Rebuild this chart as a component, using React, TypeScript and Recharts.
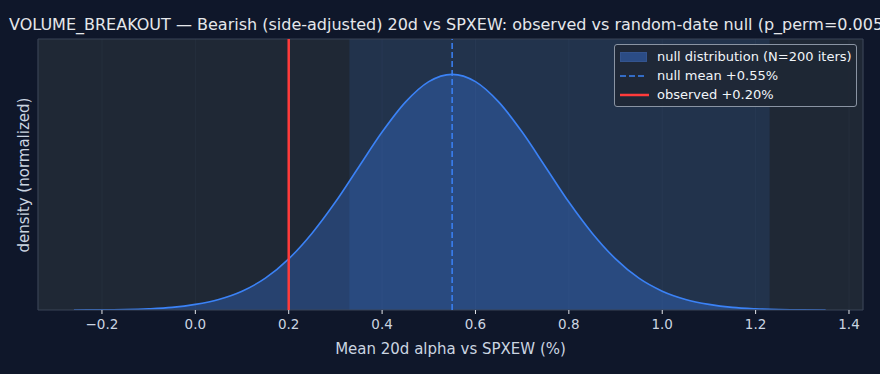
import {
    ComposedChart,
    Area,
    XAxis,
    YAxis,
    CartesianGrid,
    ReferenceArea,
    ReferenceLine,
} from "recharts";

// alpha grid (%) and normalized density
const alphaPts = [
    -0.26, -0.2, -0.15, -0.1, -0.05, 0.0, 0.05, 0.1, 0.15, 0.2, 0.25, 0.3, 0.35,
    0.4, 0.45, 0.5, 0.55, 0.6, 0.65, 0.7, 0.75, 0.8, 0.85, 0.9, 0.95, 1.0, 1.05,
    1.1, 1.15, 1.2, 1.25, 1.3, 1.35,
];
const density = [
    0.0003, 0.001, 0.002, 0.005, 0.011, 0.024, 0.045, 0.08, 0.135, 0.217, 0.326,
    0.458, 0.607, 0.755, 0.882, 0.969, 1.0, 0.969, 0.882, 0.755, 0.607, 0.458,
    0.326, 0.217, 0.135, 0.08, 0.045, 0.024, 0.011, 0.005, 0.002, 0.001, 0.0003,
];
const xTicks = [-0.2, 0, 0.2, 0.4, 0.6, 0.8, 1.0, 1.2, 1.4];

const nullMean = 0.55;
const observed = 0.2;
const bandLo = 0.33;
const bandHi = 1.23;

const X_MIN = -0.337;
const X_MAX = 1.43;
const Y_MAX = 1.15;

const data = alphaPts.map((a, i) => ({ alpha: a, dens: density[i] }));

const font = "'DejaVu Sans', sans-serif";

const fmt = (v: number) => (v < 0 ? "\u2212" + Math.abs(v).toFixed(1) : v.toFixed(1));

const row = { position: "absolute" as const, left: 5, height: 19, display: "flex", alignItems: "center" };

export default function App() {
    return (
        <div
            style={{
                position: "absolute",
                left: 0,
                top: 0,
                width: 880,
                height: 374,
                background: "#0f172a",
                overflow: "hidden",
                fontFamily: font,
            }}
        >
            <div
                style={{
                    position: "absolute",
                    left: 9,
                    top: 15,
                    fontSize: 16,
                    color: "#e5e7eb",
                    whiteSpace: "nowrap",
                    lineHeight: "20px",
                }}
            >
                VOLUME_BREAKOUT — Bearish (side-adjusted) 20d vs SPXEW: observed vs random-date null (p_perm=0.005)
            </div>
            <div
                style={{
                    position: "absolute",
                    left: 24,
                    top: 175,
                    transform: "translate(-50%, -50%) rotate(-90deg)",
                    fontSize: 15,
                    color: "#cbd5e1",
                    whiteSpace: "nowrap",
                }}
            >
                density (normalized)
            </div>
            <ComposedChart
                width={880}
                height={374}
                data={data}
                margin={{ top: 39, right: 17, bottom: 0, left: 38 }}
            >
                <CartesianGrid
                    horizontal={false}
                    fill="#1f2835"
                    stroke="#2a3442"
                    strokeOpacity={0.6}
                />
                <XAxis
                    dataKey="alpha"
                    type="number"
                    domain={[X_MIN, X_MAX]}
                    ticks={xTicks}
                    tickFormatter={fmt}
                    allowDataOverflow
                    height={64}
                    tickSize={4}
                    tickMargin={5}
                    axisLine={false}
                    tickLine={{ stroke: "#e5e7eb" }}
                    tick={{ fill: "#cbd5e1", fontSize: 13.5, fontFamily: font }}
                    label={{
                        value: "Mean 20d alpha vs SPXEW (%)",
                        position: "insideBottom",
                        offset: 20,
                        fill: "#cbd5e1",
                        fontSize: 15,
                        fontFamily: font,
                    }}
                />
                <YAxis hide domain={[0, Y_MAX]} allowDataOverflow />
                <ReferenceArea
                    x1={bandLo}
                    x2={bandHi}
                    y1={0}
                    y2={Y_MAX}
                    fill="#3b82f6"
                    fillOpacity={0.12}
                    stroke="none"
                />
                <Area
                    dataKey="dens"
                    type="monotone"
                    stroke="#3b82f6"
                    strokeWidth={1.6}
                    fill="#3b82f6"
                    fillOpacity={0.3}
                    isAnimationActive={false}
                    dot={false}
                    activeDot={false}
                />
                <ReferenceLine
                    x={nullMean}
                    stroke="#3b82f6"
                    strokeWidth={1.5}
                    strokeDasharray="6 3"
                />
                <ReferenceLine x={observed} stroke="#ff3b3b" strokeWidth={2.5} />
                <ReferenceArea
                    x1={X_MIN}
                    x2={X_MAX}
                    y1={0}
                    y2={Y_MAX}
                    fill="none"
                    stroke="#3a4556"
                    strokeWidth={1}
                />
            </ComposedChart>
            <div
                style={{
                    position: "absolute",
                    left: 614,
                    top: 44,
                    width: 241,
                    height: 61,
                    border: "1px solid #8a94a3",
                    borderRadius: 3,
                    background: "rgba(30,39,52,0.85)",
                    fontSize: 13,
                    color: "#f1f5f9",
                }}
            >
                <div style={{ ...row, top: 2 }}>
                    <span style={{ width: 27, height: 10, background: "#2b4c85", border: "1px solid #34548e", marginRight: 10, boxSizing: "border-box" }} />
                    null distribution (N=200 iters)
                </div>
                <div style={{ ...row, top: 21 }}>
                    <svg width={27} height={4} style={{ marginRight: 10 }}>
                        <line x1={0} y1={2} x2={27} y2={2} stroke="#3b82f6" strokeWidth={1.6} strokeDasharray="6 3" />
                    </svg>
                    null mean +0.55%
                </div>
                <div style={{ ...row, top: 40 }}>
                    <svg width={29} height={4} style={{ marginRight: 8 }}>
                        <line x1={0} y1={2} x2={29} y2={2} stroke="#ff3b3b" strokeWidth={2.5} />
                    </svg>
                    observed +0.20%
                </div>
            </div>
        </div>
    );
}
